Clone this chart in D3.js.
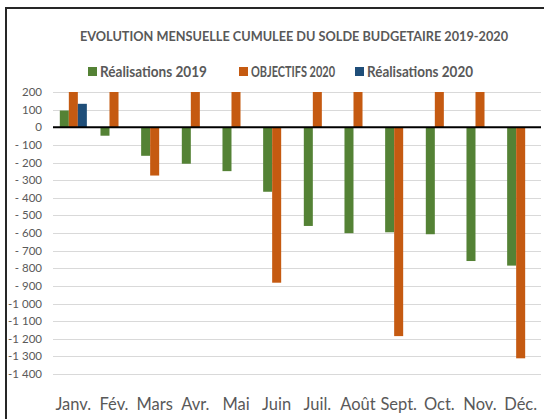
<!DOCTYPE html>
<html><head><meta charset="utf-8">
<script src="https://cdn.jsdelivr.net/npm/d3@7"></script>
<style>body{margin:0;background:#fff}svg{display:block}text{font-family:Lato,"Open Sans",sans-serif}</style>
</head><body><svg id="c" width="544" height="419"></svg>
<script>
const months = ["Janv.","Fév.","Mars","Avr.","Mai","Juin","Juil.","Août","Sept.","Oct.","Nov.","Déc."];
const seriesNames = ["Réalisations 2019","OBJECTIFS 2020","Réalisations 2020"];
const real2019 = [95,-48,-162,-207,-249,-366,-560,-601,-596,-607,-759,-785];
const obj2020 = [250,250,-274,250,250,-882,250,250,-1185,250,250,-1311];
const real2020 = [133,null,null,null,null,null,null,null,null,null,null,null];
const colors = ["#548235","#C55A11","#1F4E79"];
const yTicks = [200,100,0,-100,-200,-300,-400,-500,-600,-700,-800,-900,-1000,-1100,-1200,-1300,-1400];
const title = "EVOLUTION MENSUELLE CUMULEE DU SOLDE BUDGETAIRE 2019-2020";

const svg = d3.select("#c");
// frame
svg.append("rect").attr("x",6).attr("y",8).attr("width",560).attr("height",430)
  .attr("fill","none").attr("stroke","#262626").attr("stroke-width",2);

const L=53,R=541,T=92,B=374;
const y = d3.scaleLinear().domain([-1400,200]).range([B,T]);
const x0 = d3.scaleBand().domain(months).range([L,R]).padding(0);
const bw = x0.bandwidth();
const gw = bw*0.665;
const x1 = d3.scaleBand().domain(seriesNames).range([(bw-gw)/2,(bw+gw)/2]).padding(0);

// gridlines
svg.append("g").selectAll("line").data(yTicks.filter(d=>d!==0)).join("line")
  .attr("x1",L).attr("x2",R).attr("y1",d=>Math.round(y(d))+0.5).attr("y2",d=>Math.round(y(d))+0.5)
  .attr("stroke","#d9d9d9").attr("stroke-width",1);

// y labels
const fmt = d => {
  if (d>=0) return String(d);
  const a = Math.abs(d);
  if (a>=1000) return "-" + Math.floor(a/1000) + " " + String(a%1000).padStart(3,"0");
  return "- " + a;
};
svg.append("g").selectAll("text").data(yTicks).join("text")
  .attr("x",42).attr("y",d=>y(d)).attr("dy","0.35em").attr("text-anchor","end")
  .attr("fill","#595959").attr("font-size",11.5).text(fmt);

// clip
svg.append("clipPath").attr("id","pc").append("rect").attr("x",L).attr("y",T).attr("width",R-L).attr("height",B-T);

const data = [real2019,obj2020,real2020];
const g = svg.append("g").attr("clip-path","url(#pc)");
seriesNames.forEach((s,i)=>{
  g.append("g").selectAll("rect").data(months.map((m,j)=>({m,v:data[i][j]})).filter(d=>d.v!=null)).join("rect")
    .attr("x",d=>x0(d.m)+x1(s)).attr("width",x1.bandwidth())
    .attr("y",d=>y(Math.max(0,d.v))).attr("height",d=>Math.abs(y(d.v)-y(0)))
    .attr("fill",colors[i]);
});

// zero line
svg.append("line").attr("x1",L).attr("x2",R).attr("y1",y(0)).attr("y2",y(0)).attr("stroke","#000").attr("stroke-width",2);

// x labels
svg.append("g").selectAll("text").data(months).join("text")
  .attr("x",d=>x0(d)+bw/2).attr("y",410).attr("text-anchor","middle")
  .attr("fill","#595959").attr("font-size",16.5).text(d=>d);

// title
svg.append("text").attr("x",294).attr("y",41).attr("text-anchor","middle")
  .attr("fill","#595959").attr("font-size",12.5).attr("font-weight","bold")
  .attr("textLength",428).attr("lengthAdjust","spacingAndGlyphs").text(title);

// legend
const legX = [88,239,355];
const legW = [107,84,106];
seriesNames.forEach((s,i)=>{
  svg.append("rect").attr("x",legX[i]).attr("y",67).attr("width",9).attr("height",9).attr("fill",colors[i]);
  svg.append("text").attr("x",legX[i]+12).attr("y",72).attr("dy","0.35em").attr("fill","#595959")
    .attr("font-size",15).attr("font-weight","bold")
    .attr("textLength",legW[i]).attr("lengthAdjust","spacingAndGlyphs").text(s);
});
</script></body></html>
